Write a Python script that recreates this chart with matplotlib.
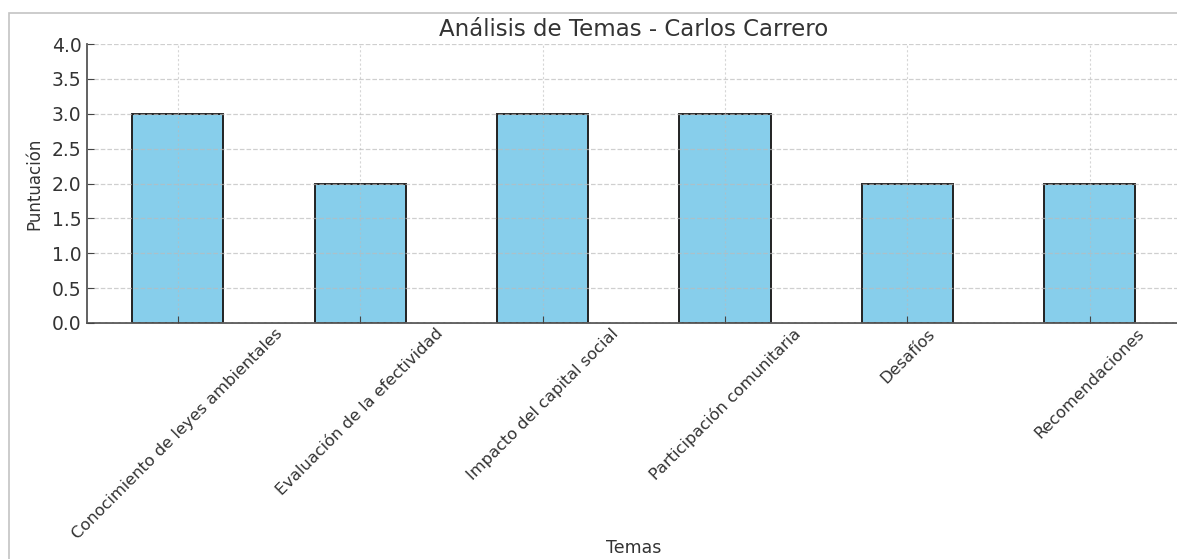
"""Bar chart: topic scores for Carlos Carrero."""

import matplotlib

matplotlib.use("Agg")
import matplotlib.pyplot as plt  # noqa: E402
import matplotlib.patches as mp  # noqa: E402

temas = ["Conocimiento de leyes ambientales", "Evaluación de la efectividad",
         "Impacto del capital social", "Participación comunitaria",
         "Desafíos", "Recomendaciones"]
puntuacion = [3, 2, 3, 3, 2, 2]
yticks = [0.0, 0.5, 1.0, 1.5, 2.0, 2.5, 3.0, 3.5, 4.0]

W, H = 1177, 559
TXT = "#333333"
plt.rcParams.update({"font.family": "DejaVu Sans", "font.size": 12})

fig = plt.figure(figsize=(W / 100, H / 100), dpi=100)
# light frame of the original screenshot (runs off the right/bottom edge)
fig.patches.append(mp.Rectangle((9 / W, -0.1), 1.2, (H - 13) / H + 0.1,
                                transform=fig.transFigure, fill=False,
                                ec="#c4c4c4", lw=1.2))

ax = fig.add_axes([86.5 / W, (H - 323) / H, (1181 - 86.5) / W, (323 - 44) / H])
ax.bar(range(len(temas)), puntuacion, width=0.5, color="skyblue",
       edgecolor="#222222", linewidth=1.4, zorder=1)
ax.set_xlim(-0.5, len(temas) - 0.5)
ax.set_ylim(0, 4)
ax.set_yticks(yticks)
ax.set_xticks(range(len(temas)))
ax.set_xticklabels(temas, rotation=45, ha="center", fontsize=11.7, color=TXT)
ax.tick_params(axis="y", labelsize=13.5, colors=TXT)
ax.tick_params(direction="in", length=5, color="#444444")
ax.tick_params(axis="x", pad=2)
ax.yaxis.set_major_formatter(matplotlib.ticker.FormatStrFormatter("%.1f"))

ax.grid(True, axis="y", ls="--", lw=0.9, color="#bbbbbb", alpha=0.7, zorder=1.5)
ax.grid(True, axis="x", ls=(0, (2, 2)), lw=0.8, color="#bbbbbb", alpha=0.6, zorder=1.5)
ax.set_axisbelow(False)
for s in ("top", "right"):
    ax.spines[s].set_visible(False)
for s in ("left", "bottom"):
    ax.spines[s].set_color("#555555")
    ax.spines[s].set_linewidth(1.3)

ax.set_title("Análisis de Temas - Carlos Carrero", fontsize=16.5, color=TXT, pad=6)
ax.set_xlabel("Temas", fontsize=12.5, color=TXT, va="center")
ax.xaxis.set_label_coords(0.5, -(548 - 323) / (323 - 44))
ax.set_ylabel("Puntuación", fontsize=12, color=TXT, labelpad=6)

fig.savefig("out.png", dpi=100)
